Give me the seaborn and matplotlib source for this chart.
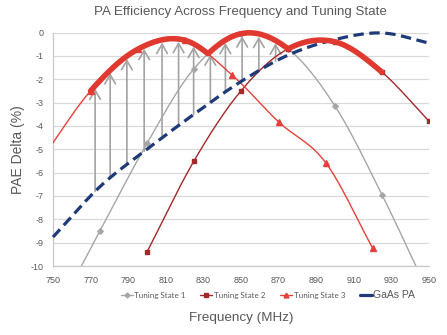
import numpy as np
import pandas as pd
import matplotlib
matplotlib.use("Agg")
import matplotlib.pyplot as plt
import seaborn as sns
from matplotlib.lines import Line2D

# ---------------- data ----------------
title = "PA Efficiency Across Frequency and Tuning State"
x_label = "Frequency (MHz)"
y_label = "PAE Delta (%)"
x_ticks = [750, 770, 790, 810, 830, 850, 870, 890, 910, 930, 950]
y_ticks = [0, -1, -2, -3, -4, -5, -6, -7, -8, -9, -10]

series_names = ["Tuning State 1", "Tuning State 2", "Tuning State 3", "GaAs PA"]

state1_freq = [750, 775, 800, 825, 850, 875, 900, 925, 950]
state1_pae = [-12.3, -8.5, -4.75, -1.55, -0.05, -0.7, -3.15, -6.95, -11.2]

state2_freq = [800, 825, 850, 875, 900, 925, 950]
state2_pae = [-9.4, -5.5, -2.5, -0.7, -0.4, -1.7, -3.8]

state3_freq = [745, 770, 795, 820, 845, 870, 895, 920]
state3_pae = [-5.3, -2.5, -0.72, -0.33, -1.8, -3.83, -5.57, -9.23]

gaas_freq = [750, 775, 800, 825, 850, 875, 900, 925, 950]
gaas_pae = [-8.76, -6.6, -5.0, -3.5, -2.1, -0.97, -0.3, -0.02, -0.45]

# hand-drawn annotation: best-state envelope and improvement arrows
envelope_start, envelope_end = 770, 925
arrow_freqs = [772.4, 780.4, 789.3, 798.5, 808.0, 816.8, 824.8, 833.7,
               841.7, 850.6, 859.5, 868.4]

# ---------------- style ----------------
c_s1 = "#a6a6a6"
c_s2 = "#a3282a"
c_s3 = "#e5413a"
c_gaas = "#1f3a78"
c_env = "#e0392f"
c_arrow = "#a3a3a3"
c_text = "#595959"
c_grid = "#d9d9d9"

sns.set_style("white")
plt.rcParams["font.family"] = ["Liberation Sans", "DejaVu Sans"]
plt.rcParams["lines.scale_dashes"] = False


def smooth(xs, ys, n=40):
    """Excel-like smoothed line (Catmull-Rom through the data points)."""
    xs = np.asarray(xs, float)
    ys = np.asarray(ys, float)
    px = np.concatenate([[2 * xs[0] - xs[1]], xs, [2 * xs[-1] - xs[-2]]])
    py = np.concatenate([[2 * ys[0] - ys[1]], ys, [2 * ys[-1] - ys[-2]]])
    t = np.linspace(0, 1, n, endpoint=False)
    h00 = 2 * t**3 - 3 * t**2 + 1
    h10 = t**3 - 2 * t**2 + t
    h01 = -2 * t**3 + 3 * t**2
    h11 = t**3 - t**2
    ox, oy = [], []
    for i in range(1, len(px) - 2):
        for arr, out in ((px, ox), (py, oy)):
            p0, p1, p2, p3 = arr[i - 1:i + 3]
            m1 = (p2 - p0) / 2
            m2 = (p3 - p1) / 2
            out.append(h00 * p1 + h10 * m1 + h01 * p2 + h11 * m2)
    ox.append([xs[-1]])
    oy.append([ys[-1]])
    return np.concatenate(ox), np.concatenate(oy)


fig = plt.figure(figsize=(4.47, 3.35), dpi=100)
ax = fig.add_axes([53 / 447, 1 - 266 / 335, (429 - 53) / 447, (266 - 32.5) / 335])

s1x, s1y = smooth(state1_freq, state1_pae)
s2x, s2y = smooth(state2_freq, state2_pae)
s3x, s3y = smooth(state3_freq, state3_pae)
gx, gy = smooth(gaas_freq, gaas_pae)

# state curves
for (sx, sy), fx, fy, col, mk, ms in [
    ((s1x, s1y), state1_freq, state1_pae, c_s1, "D", 2.8),
    ((s2x, s2y), state2_freq, state2_pae, c_s2, "s", 3.2),
    ((s3x, s3y), state3_freq, state3_pae, c_s3, "^", 3.8),
]:
    sns.lineplot(x=sx, y=sy, ax=ax, color=col, lw=1.0, sort=False,
                 estimator=None, zorder=3)
    ax.plot(fx, fy, ls="none", marker=mk, ms=ms, color=col, zorder=4)

# envelope (max of states)
grid = np.linspace(envelope_start, envelope_end, 600)
env = np.maximum.reduce([np.interp(grid, s1x, s1y),
                         np.interp(grid, s2x, s2y),
                         np.interp(grid, s3x, s3y)])

# arrows
for f in arrow_freqs:
    y0 = np.interp(f, gx, gy)
    y1 = np.interp(f, grid, env) - 0.12
    ax.annotate("", xy=(f, y1), xytext=(f, y0),
                arrowprops=dict(arrowstyle="->,head_length=0.6,head_width=0.35",
                                color=c_arrow, lw=1.2,
                                mutation_scale=11, shrinkA=0, shrinkB=0),
                zorder=2)

# GaAs PA dashed
sns.lineplot(x=gx, y=gy, ax=ax, color=c_gaas, lw=2.3, sort=False,
             estimator=None, zorder=5)
ax.lines[-1].set_dashes((7.5, 4.0))
ax.lines[-1].set_clip_on(False)

sns.lineplot(x=grid, y=env, ax=ax, color=c_env, lw=4.0, sort=False,
             estimator=None, zorder=6)
ax.lines[-1].set_clip_on(False)
ax.lines[-1].set_solid_capstyle("round")

# axes
ax.set_xlim(750, 950)
ax.set_ylim(-10, 0)
ax.set_xticks(x_ticks)
ax.set_yticks(y_ticks)
ax.set_xticklabels([str(v) for v in x_ticks])
ax.set_yticklabels([str(v) for v in y_ticks])
ax.yaxis.grid(True, color=c_grid, lw=0.9)
ax.xaxis.grid(False)
ax.set_axisbelow(True)
for side in ["top", "right"]:
    ax.spines[side].set_visible(False)
ax.spines["left"].set_color("#c8c8c8")
ax.spines["bottom"].set_color("#c8c8c8")
ax.spines["left"].set_linewidth(0.9)
ax.spines["bottom"].set_linewidth(0.9)
ax.tick_params(axis="x", direction="out", length=3, width=0.8, color="#c8c8c8",
               labelsize=6.5, labelcolor=c_text, pad=4)
ax.tick_params(axis="y", direction="out", length=3, width=0.8, color=c_grid,
               labelsize=6.5, labelcolor=c_text, pad=4)
ax.set_xlabel("")
ax.set_ylabel("")

fig.text(241 / 447, 1 - 318 / 335, x_label, ha="center", va="center",
         fontsize=9.7, color=c_text)
fig.text(18 / 447, 1 - 150 / 335, y_label, ha="center", va="center",
         rotation=90, fontsize=10, color=c_text)
fig.text(240 / 447, 1 - 12.5 / 335, title, ha="center", va="center",
         fontsize=9.6, color=c_text)

handles = [
    Line2D([], [], color=c_s1, lw=1.0, marker="D", ms=2.5),
    Line2D([], [], color=c_s2, lw=1.0, marker="s", ms=3),
    Line2D([], [], color=c_s3, lw=1.0, marker="^", ms=3.5),
    Line2D([], [], color=c_gaas, lw=2.3),
]
leg = fig.legend(handles, series_names, loc="center",
                 bbox_to_anchor=(268 / 447, 1 - 295 / 335), ncol=4,
                 frameon=False, fontsize=5.8, handlelength=1.5,
                 handletextpad=0.2, columnspacing=1.8)
for i, t in enumerate(leg.get_texts()):
    t.set_color(c_text)
    if i < 3:
        t.set_family(["Lato", "DejaVu Sans"])
    else:
        t.set_fontsize(7.5)

fig.savefig("out.png", dpi=100)
